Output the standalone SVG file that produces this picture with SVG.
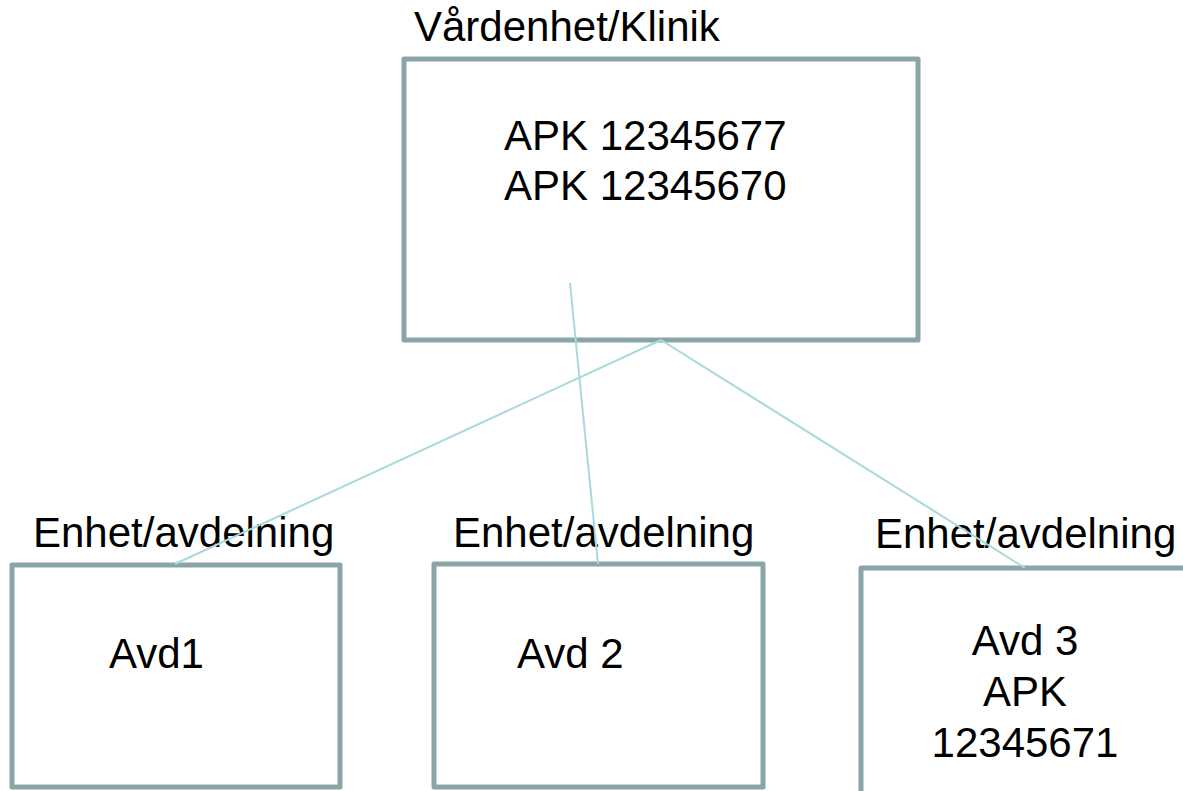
<svg xmlns="http://www.w3.org/2000/svg" width="1183" height="791" viewBox="0 0 1183 791">
<style>
.box{fill:#ffffff;stroke:#8aa5a8;stroke-width:5;stroke-linejoin:round}
.t{font-family:"Liberation Sans",Arial,sans-serif;font-size:42px;fill:#000000}
.c{text-anchor:middle}
.ln{stroke:#a9d8dd;stroke-width:2;fill:none}
</style>
<rect width="1183" height="791" fill="#ffffff"/>
<g id="top-node">
<text class="t" x="414" y="41">Vårdenhet/Klinik</text>
<rect class="box" x="404" y="59" width="514" height="281"/>
<text class="t" x="504" y="150">APK 12345677</text>
<text class="t" x="504" y="200">APK 12345670</text>
</g>
<g id="node-avd1">
<text class="t" x="33" y="547">Enhet/avdelning</text>
<rect class="box" x="12" y="565" width="328" height="222"/>
<text class="t" x="109" y="668">Avd1</text>
</g>
<g id="node-avd2">
<text class="t" x="453" y="547">Enhet/avdelning</text>
<rect class="box" x="434" y="564" width="329" height="223"/>
<text class="t" x="517" y="668">Avd 2</text>
</g>
<g id="node-avd3">
<text class="t" x="875" y="548">Enhet/avdelning</text>
<rect class="box" x="861" y="568" width="330" height="230"/>
<text class="t c" x="1025" y="655">Avd 3</text>
<text class="t c" x="1025" y="706">APK</text>
<text class="t c" x="1025" y="757">12345671</text>
</g>
<g id="connectors">
<line class="ln" x1="661" y1="340" x2="175" y2="564"/>
<line class="ln" x1="570" y1="283" x2="598" y2="564"/>
<line class="ln" x1="661" y1="340" x2="1025" y2="568"/>
</g>
</svg>
